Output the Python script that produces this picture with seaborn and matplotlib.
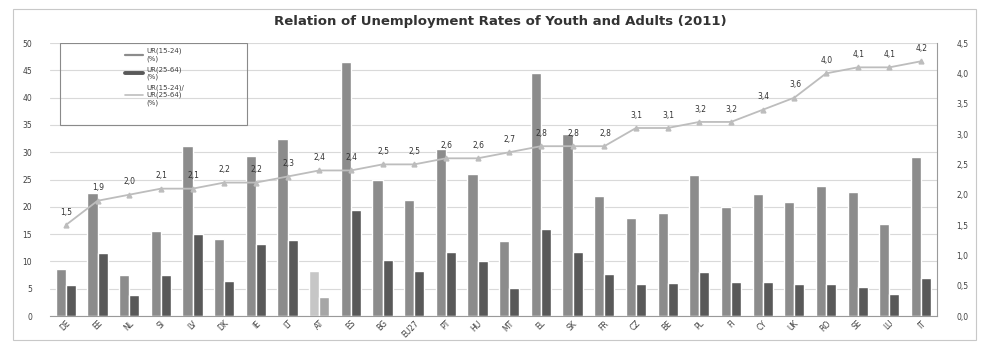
import matplotlib
matplotlib.use("Agg")
import matplotlib.pyplot as plt
from matplotlib.lines import Line2D
from matplotlib.patches import Rectangle
import seaborn as sns
import pandas as pd

# Countries sorted by the youth/adult unemployment ratio, 2011
countries = ["DE", "EE", "NL", "SI", "LV", "DK", "IE", "LT", "AT", "ES",
             "BG", "EU27", "PT", "HU", "MT", "EL", "SK", "FR", "CZ", "BE",
             "PL", "FI", "CY", "UK", "RO", "SE", "LU", "IT"]
youth_rate = [8.6, 22.5, 7.6, 15.6, 31.1, 14.1, 29.3, 32.4, 8.3, 46.6,
              24.9, 21.2, 30.6, 26.1, 13.7, 44.5, 33.4, 22.0, 17.9, 18.8,
              25.9, 20.0, 22.3, 20.9, 23.8, 22.8, 16.8, 29.2]
adult_rate = [5.7, 11.6, 3.8, 7.6, 15.0, 6.4, 13.2, 13.9, 3.5, 19.5,
              10.2, 8.3, 11.8, 10.0, 5.2, 15.9, 11.8, 7.7, 5.8, 6.0,
              8.0, 6.3, 6.3, 5.8, 5.8, 5.4, 4.0, 7.0]
ratio = [1.5, 1.9, 2.0, 2.1, 2.1, 2.2, 2.2, 2.3, 2.4, 2.4,
         2.5, 2.5, 2.6, 2.6, 2.7, 2.8, 2.8, 2.8, 3.1, 3.1,
         3.2, 3.2, 3.4, 3.6, 4.0, 4.1, 4.1, 4.2]
series_names = ["UR(15-24)\n(%)", "UR(25-64)\n(%)", "UR(15-24)/\nUR(25-64)\n(%)"]
left_ticks = [0, 5, 10, 15, 20, 25, 30, 35, 40, 45, 50]
right_ticks = [0.0, 0.5, 1.0, 1.5, 2.0, 2.5, 3.0, 3.5, 4.0, 4.5]
highlight = "AT"

sns.set_theme(style="white")
plt.rcParams["font.family"] = ["DejaVu Sans"]

youth_col = "#8c8c8c"
adult_col = "#595959"
ratio_col = "#bdbdbd"
text_col = "#404040"

df = pd.DataFrame({
    "country": countries * 2,
    "rate": youth_rate + adult_rate,
    "group": [series_names[0]] * len(countries) + [series_names[1]] * len(countries),
})

fig = plt.figure(figsize=(9.81, 3.42), dpi=100)
ax = fig.add_axes([0.051, 0.076, 0.904, 0.798])

sns.barplot(data=df, x="country", y="rate", hue="group", order=countries,
            hue_order=series_names[:2], palette=[youth_col, adult_col],
            saturation=1, width=0.64, legend=False, ax=ax)

# lighter colours for the highlighted country
hi = countries.index(highlight)
ax.containers[0][hi].set_facecolor("#c6c6c6")
ax.containers[1][hi].set_facecolor("#a6a6a6")

ax.set_ylim(0, 50)
ax.set_yticks(left_ticks)
ax.set_yticklabels([str(t) for t in left_ticks], fontsize=5.5, color=text_col)
ax.set_xlim(-0.5, len(countries) - 0.5)
ax.set_xlabel("")
ax.set_ylabel("")
ax.tick_params(axis="x", labelsize=5.5, colors=text_col, length=0, pad=2)
for lab in ax.get_xticklabels():
    lab.set_rotation(45)
    lab.set_ha("right")
    lab.set_rotation_mode("anchor")
ax.tick_params(axis="y", length=0, pad=13)
ax.yaxis.grid(True, color="#d9d9d9", linewidth=0.8)
ax.set_axisbelow(True)
for side in ["top", "left"]:
    ax.spines[side].set_visible(False)
ax.spines["bottom"].set_color("#9a9a9a")
ax.spines["bottom"].set_linewidth(0.8)
ax.spines["right"].set_color("#9a9a9a")
ax.spines["right"].set_linewidth(0.8)

ax2 = ax.twinx()
sns.pointplot(x=countries, y=ratio, ax=ax2, color=ratio_col, markers="^",
              markersize=3.5, linewidth=1.3)
ax2.set_ylim(0, 4.5)
ax2.set_xlim(-0.5, len(countries) - 0.5)
ax2.set_yticks(right_ticks)
ax2.set_yticklabels([f"{t:.1f}".replace(".", ",") for t in right_ticks],
                    fontsize=5.5, color=text_col)
ax2.tick_params(axis="y", length=0, pad=14)
ax2.set_ylabel("")
for s in ax2.spines.values():
    s.set_visible(False)

for i, v in enumerate(ratio):
    ax2.annotate(f"{v:.1f}".replace(".", ","), (i, v), xytext=(0.5, 6),
                 textcoords="offset points", ha="center", va="bottom",
                 fontsize=5.5, color="#333333")

# legend box in the upper left corner
ax.add_patch(Rectangle((0.011, 0.70), 0.211, 0.30, transform=ax.transAxes,
                       fill=False, edgecolor="#8a8a8a", linewidth=0.8, zorder=5))
handles = [Line2D([], [], color=youth_col, lw=1.6),
           Line2D([], [], color=adult_col, lw=2.8),
           Line2D([], [], color=ratio_col, lw=1.2)]
leg = ax.legend(handles, series_names, loc="upper center",
                bbox_to_anchor=(0.118, 1.005), frameon=False, fontsize=5,
                handlelength=2.6, handletextpad=0.4, labelspacing=0.6,
                labelcolor=text_col)

fig.suptitle("Relation of Unemployment Rates of Youth and Adults (2011)",
             x=0.51, y=0.955, fontsize=9.5, fontweight="bold", color="#333333")

fig.patches.append(Rectangle((0.013, 0.005), 0.982, 0.968, transform=fig.transFigure,
                             fill=False, edgecolor="#c8c8c8", linewidth=0.8))

fig.savefig("out.png", dpi=100)
